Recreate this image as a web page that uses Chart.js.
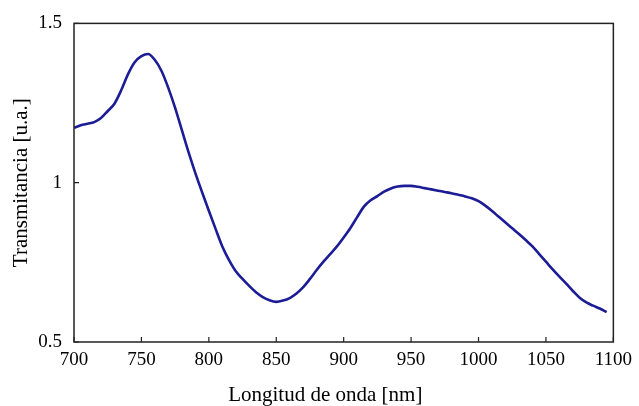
<!DOCTYPE html>
<html>
<head>
<meta charset="utf-8">
<script src="https://cdn.jsdelivr.net/npm/chart.js@4/dist/chart.umd.min.js"></script>
<style>
html,body{margin:0;padding:0;background:#fff;}
#wrap{width:639px;height:406px;}
</style>
</head>
<body>
<div id="wrap"><canvas id="c" width="639" height="406"></canvas></div>
<script>
const wavelengths = [700,705,710,715,720,725,730,735,740,745,750,755,760,765,770,775,780,785,790,795,
  800,805,810,815,820,825,830,835,840,845,850,855,860,865,870,875,880,885,890,895,
  900,905,910,915,920,925,930,935,940,945,950,955,960,965,970,975,980,985,990,995,
  1000,1005,1010,1015,1020,1025,1030,1035,1040,1045,1050,1055,1060,1065,1070,1075,1080,1085,1090,1095];
const transmitancia = [1.172,1.180,1.185,1.190,1.203,1.225,1.248,1.290,1.340,1.378,1.397,1.404,1.385,1.350,1.297,1.235,1.165,1.095,1.030,0.970,
  0.912,0.855,0.800,0.757,0.722,0.698,0.676,0.656,0.641,0.631,0.626,0.630,0.638,0.652,0.672,0.698,0.726,0.752,0.776,0.800,
  0.828,0.858,0.892,0.925,0.945,0.958,0.972,0.982,0.988,0.990,0.990,0.987,0.983,0.979,0.975,0.971,0.967,0.962,0.957,0.951,
  0.942,0.928,0.911,0.893,0.875,0.857,0.839,0.820,0.800,0.776,0.752,0.728,0.705,0.683,0.660,0.639,0.624,0.614,0.605,0.594];
const xTicks = [700,750,800,850,900,950,1000,1050,1100];
const yTicks = [0.5,1,1.5];
const yTickLabels = ['0.5','1','1.5'];
const xTitle = 'Longitud de onda [nm]';
const yTitle = 'Transmitancia [u.a.]';

const frame = {
  id: 'frame',
  afterDraw(chart) {
    const {ctx, chartArea: a, scales} = chart;
    ctx.save();
    ctx.strokeStyle = '#222';
    ctx.lineWidth = 1.5;
    ctx.strokeRect(a.left, a.top, a.right - a.left, a.bottom - a.top);
    ctx.lineWidth = 1.2;
    ctx.beginPath();
    xTicks.forEach(v => {
      const x = scales.x.getPixelForValue(v);
      ctx.moveTo(x, a.bottom); ctx.lineTo(x, a.bottom - 5);
    });
    yTicks.forEach(v => {
      const y = scales.y.getPixelForValue(v);
      ctx.moveTo(a.left, y); ctx.lineTo(a.left + 5, y);
    });
    ctx.stroke();
    ctx.restore();
  }
};

const tickFont = {family: '"Liberation Serif", "Times New Roman", serif', size: 19};
const titleFont = {family: '"Liberation Serif", "Times New Roman", serif', size: 21, lineHeight: 1};

new Chart(document.getElementById('c'), {
  type: 'line',
  data: {
    datasets: [{
      data: wavelengths.map((w, i) => ({x: w, y: transmitancia[i]})),
      borderColor: '#1c1c96',
      borderWidth: 2.6,
      pointRadius: 0,
      cubicInterpolationMode: 'monotone',
      fill: false
    }]
  },
  options: {
    responsive: false,
    animation: false,
    devicePixelRatio: 1,
    layout: {padding: {left: 0, right: 22, top: 22, bottom: 0}},
    plugins: {legend: {display: false}, tooltip: {enabled: false}},
    scales: {
      x: {
        type: 'linear', min: 700, max: 1100,
        afterFit(s) { s.height = 64; },
        afterBuildTicks(s) { s.ticks = xTicks.map(v => ({value: v})); },
        ticks: {color: '#000', font: tickFont, padding: 7, maxRotation: 0, autoSkip: false,
          callback: v => String(v)},
        grid: {display: false, drawTicks: false},
        border: {display: false},
        title: {display: true, text: xTitle + '\u00a0\u00a0\u00a0\u00a0\u00a0\u00a0\u00a0', color: '#000', font: titleFont, padding: {top: 0, bottom: 0.5}}
      },
      y: {
        type: 'linear', min: 0.5, max: 1.5,
        afterFit(s) { s.width = 74; },
        afterBuildTicks(s) { s.ticks = yTicks.map(v => ({value: v})); },
        ticks: {color: '#000', font: tickFont, padding: 12, autoSkip: false,
          callback: (v) => yTickLabels[yTicks.indexOf(v)] ?? ''},
        grid: {display: false, drawTicks: false},
        border: {display: false},
        title: {display: true, text: yTitle, color: '#000', font: titleFont, padding: {top: 11, bottom: 0}}
      }
    }
  },
  plugins: [frame]
});
</script>
</body>
</html>
